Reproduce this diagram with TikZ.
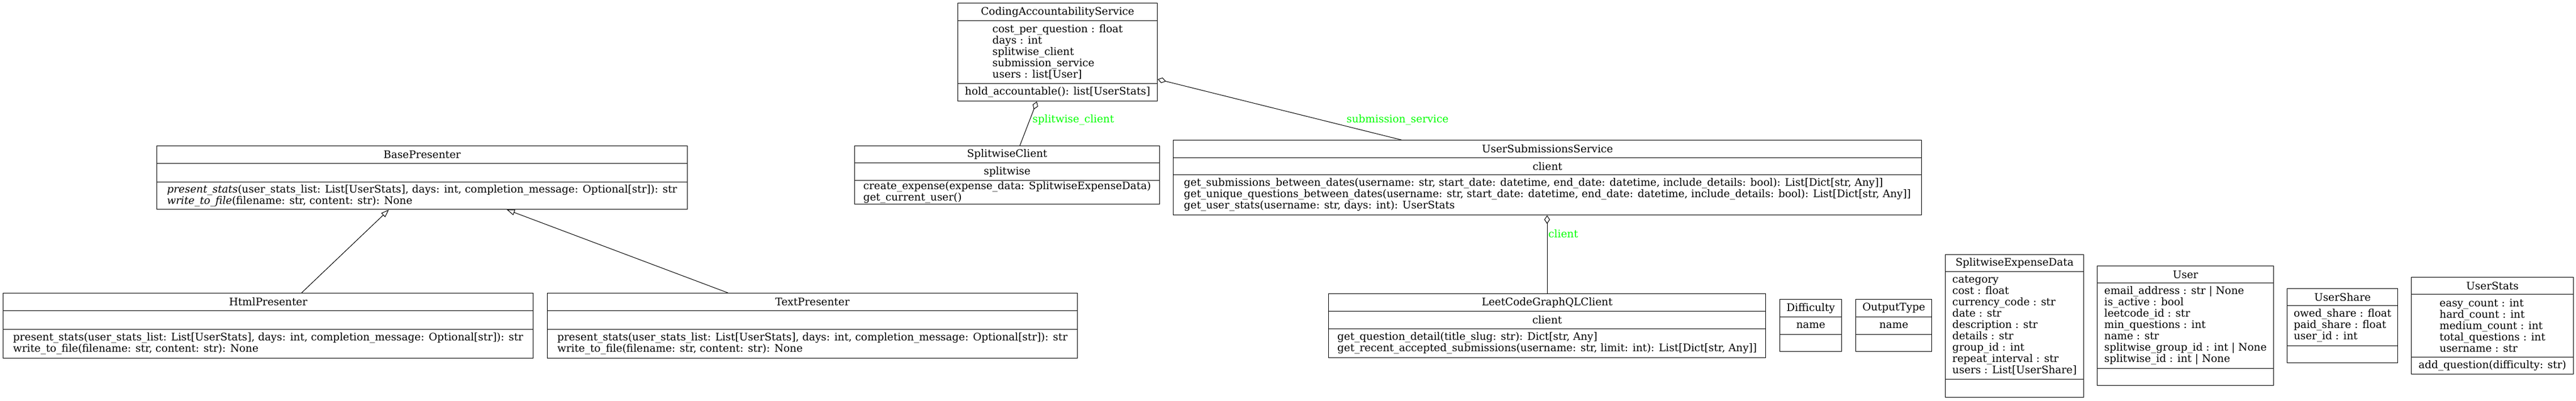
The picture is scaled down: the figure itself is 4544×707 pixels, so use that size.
\documentclass[tikz,border=0pt]{standalone}
\usepackage{fontspec}
\setmainfont{DejaVu Serif}
\usetikzlibrary{arrows.meta,calc}
\definecolor{lbl}{RGB}{0,255,0}
\tikzset{
  part/.style={draw=black, line width=0.6pt, inner sep=0pt, anchor=north west, align=left,
    font=\fontsize{9.2}{10}\selectfont},
  lab/.style={text=lbl, inner sep=0pt, anchor=west, font=\fontsize{9.2}{10}\selectfont},
  aggr/.style={draw=black, line width=0.5pt, -{Diamond[open, length=7.5pt, width=5pt]}},
  inher/.style={draw=black, line width=0.5pt, -{Triangle[open, length=7pt, width=5pt]}}
}
% \cls{name}{x1}{x2}{y1}{yh}{ya}{y2}  uses \clsT \clsA \clsM
\newcommand\cls[7]{%
  \node[part, minimum width={(#3-#2)*0.5pt}, minimum height={(#5-#4)*0.5pt}] (#1H) at (#2,#4) {\clsT};
  \node[part, minimum width={(#3-#2)*0.5pt}, minimum height={(#6-#5)*0.5pt}] (#1A) at (#2,#5) {\clsA};
  \node[part, minimum width={(#3-#2)*0.5pt}, minimum height={(#7-#6)*0.5pt}] (#1M) at (#2,#6) {\clsM};
}
\begin{document}
\begin{tikzpicture}[x=0.5pt, y=-0.5pt]
\useasboundingbox[fill=white] (0,0) rectangle (4544,707);

% CodingAccountabilityService
\def\clsT{CodingAccountabilityService}
\def\clsA{cost\_per\_question : float\\days : int\\splitwise\_client\\submission\_service\\users : list[User]}
\def\clsM{hold\_accountable(): list[UserStats]}
\cls{cas}{1689}{2041}{5}{36}{147}{178}

% SplitwiseClient
\def\clsT{SplitwiseClient}
\def\clsA{splitwise}
\def\clsM{create\_expense(expense\_data: SplitwiseExpenseData)\\get\_current\_user()}
\cls{sc}{1507}{2045}{257}{287}{318}{360}

% UserSubmissionsService
\def\clsT{UserSubmissionsService}
\def\clsA{client}
\def\clsM{get\_submissions\_between\_dates(username: str, start\_date: datetime, end\_date: datetime, include\_details: bool): List[Dict[str, Any]]\\get\_unique\_questions\_between\_dates(username: str, start\_date: datetime, end\_date: datetime, include\_details: bool): List[Dict[str, Any]]\\get\_user\_stats(username: str, days: int): UserStats}
\cls{uss}{2069}{3389}{247}{278}{308}{379}

% LeetCodeGraphQLClient
\def\clsT{LeetCodeGraphQLClient}
\def\clsA{client}
\def\clsM{get\_question\_detail(title\_slug: str): Dict[str, Any]\\get\_recent\_accepted\_submissions(username: str, limit: int): List[Dict[str, Any]]}
\cls{lcg}{2343}{3114}{518}{549}{580}{631}

% Difficulty
\def\clsT{Difficulty}
\def\clsA{name}
\def\clsM{}
\cls{dif}{3139}{3248}{528}{559}{590}{620}

% OutputType
\def\clsT{OutputType}
\def\clsA{name}
\def\clsM{}
\cls{ot}{3273}{3407}{528}{559}{590}{620}

% SplitwiseExpenseData
\def\clsT{SplitwiseExpenseData}
\def\clsA{category\\cost : float\\currency\_code : str\\date : str\\description : str\\details : str\\group\_id : int\\repeat\_interval : str\\users : List[UserShare]}
\def\clsM{}
\cls{sed}{3431}{3675}{449}{479}{669}{701}

% User
\def\clsT{User}
\def\clsA{email\_address : str | None\\is\_active : bool\\leetcode\_id : str\\min\_questions : int\\name : str\\splitwise\_group\_id : int | None\\splitwise\_id : int | None}
\def\clsM{}
\cls{usr}{3699}{4010}{469}{499}{650}{680}

% UserShare
\def\clsT{UserShare}
\def\clsA{owed\_share : float\\paid\_share : float\\user\_id : int}
\def\clsM{}
\cls{ush}{4034}{4229}{509}{539}{610}{640}

% UserStats
\def\clsT{UserStats}
\def\clsA{easy\_count : int\\hard\_count : int\\medium\_count : int\\total\_questions : int\\username : str}
\def\clsM{add\_question(difficulty: str)}
\cls{ust}{4253}{4539}{489}{519}{630}{660}

% BasePresenter
\def\clsT{BasePresenter}
\def\clsA{}
\def\clsM{\textit{present\_stats}(user\_stats\_list: List[UserStats], days: int, completion\_message: Optional[str]): str\\\textit{write\_to\_file}(filename: str, content: str): None}
\cls{base}{276}{1212}{257}{288}{321}{369}

% HtmlPresenter
\def\clsT{HtmlPresenter}
\def\clsA{}
\def\clsM{present\_stats(user\_stats\_list: List[UserStats], days: int, completion\_message: Optional[str]): str\\write\_to\_file(filename: str, content: str): None}
\cls{html}{5}{940}{517}{548}{581}{632}

% TextPresenter
\def\clsT{TextPresenter}
\cls{text}{965}{1900}{517}{548}{581}{632}

% connectors
\draw[aggr] ($(scH.north west)+(292,0)$) -- ($(casM.south west)+(140,0)$);
\draw[aggr] ($(ussH.north west)+(403,0)$) -- ($(casA.north east)+(0,104)$);
\draw[aggr] ($(lcgH.north west)+(386,0)$) -- ($(ussM.south west)+(660,0)$);
\draw[inher] ($(htmlH.north west)+(527,0)$) -- ($(baseM.south west)+(410,0)$);
\draw[inher] ($(textH.north west)+(319,0)$) -- ($(baseM.south west)+(618,0)$);

% labels
\node[lab] (l1) at (1821,212) {splitwise\_client};
\node[lab] (l2) at (2375,212) {submission\_service};
\node[lab] (l3) at (2731,413) {client};
\end{tikzpicture}
\end{document}
